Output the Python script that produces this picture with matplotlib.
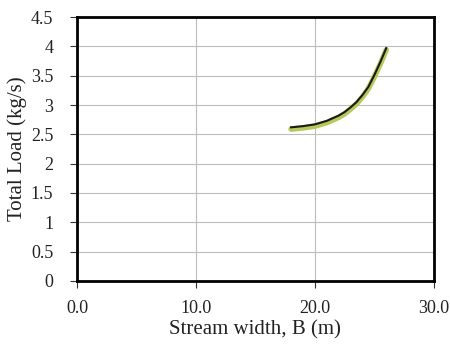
import matplotlib.pyplot as plt

# stream width (m) and total load (kg/s)
width = [18, 19, 20, 21, 22, 22.5, 23, 23.5, 24, 24.5, 25, 25.5, 26]
load_black = [2.62, 2.64, 2.67, 2.73, 2.82, 2.88, 2.96, 3.05, 3.17, 3.31, 3.51, 3.73, 3.97]
load_green = [2.59, 2.61, 2.64, 2.70, 2.79, 2.85, 2.93, 3.02, 3.14, 3.28, 3.48, 3.70, 3.94]

xticks = [0, 10, 20, 30]
yticks = [0, 0.5, 1, 1.5, 2, 2.5, 3, 3.5, 4, 4.5]

plt.rcParams['font.family'] = ['Liberation Serif', 'DejaVu Serif']

fig = plt.figure(figsize=(4.5, 3.49), dpi=100)
ax = fig.add_axes([0.171, 0.195, 0.793, 0.756])

ax.plot(width, load_green, color='#b8c85a', lw=4, solid_capstyle='round')
ax.plot(width, load_black, color='#1a1a1a', lw=1.5)

ax.set_xlim(0, 30)
ax.set_ylim(0, 4.5)
ax.set_xticks(xticks)
ax.set_xticklabels(['%.1f' % v for v in xticks])
ax.set_yticks(yticks)
ax.set_yticklabels(['%g' % v for v in yticks])
ax.grid(color='#bdbdbd', lw=0.8)
for s in ax.spines.values():
    s.set_linewidth(2)
    s.set_color('black')
ax.tick_params(labelsize=13, colors='#333333', length=5, width=0.8)
ax.tick_params(axis='y', pad=12)
ax.tick_params(axis='x', pad=9)
ax.tick_params(axis='both', labelcolor='#222222')
ax.set_xlabel('Stream width, B (m)', fontsize=15, color='#222222')
ax.set_ylabel('Total Load (kg/s)', fontsize=15, color='#222222')
ax.yaxis.set_label_coords(-0.14, 0.5)
ax.xaxis.set_label_coords(0.5, -0.15)

fig.savefig('out.png', dpi=100)
